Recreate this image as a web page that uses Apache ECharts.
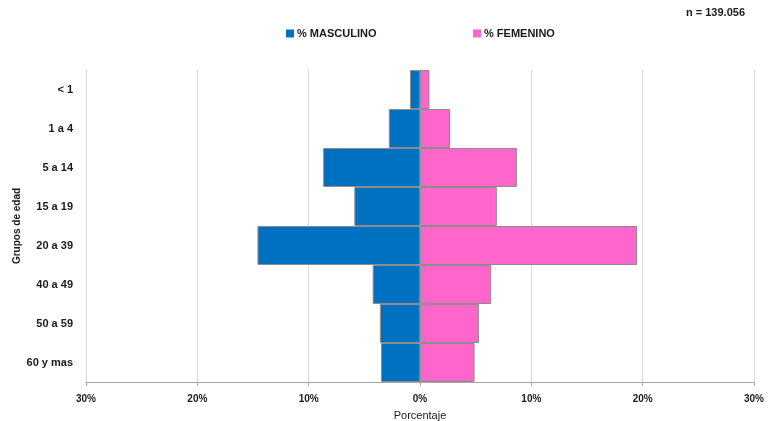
<!DOCTYPE html>
<html><head><meta charset="utf-8">
<script src="https://cdn.jsdelivr.net/npm/echarts@6/dist/echarts.min.js"></script>
<style>html,body{margin:0;padding:0;background:#fff;overflow:hidden}#c{width:774px;height:421px}</style>
</head><body><div id="c"></div>
<script>
const categories = ['< 1','1 a 4','5 a 14','15 a 19','20 a 39','40 a 49','50 a 59','60 y mas'];
const masculino = [0.9, 2.8, 8.7, 5.9, 14.6, 4.25, 3.6, 3.5];
const femenino = [0.85, 2.7, 8.7, 6.9, 19.5, 6.4, 5.3, 4.9];
const xTicks = [-30, -20, -10, 0, 10, 20, 30];

const font = 'Liberation Sans, Arial, sans-serif';
const chart = echarts.init(document.getElementById('c'));
chart.setOption({
  animation: false,
  textStyle: {fontFamily: font},
  grid: {left: 86, right: 20, top: 70, bottom: 39, containLabel: false, outerBoundsMode: 'none'},
  graphic: [{type: 'text', right: 29, top: 7, style: {text: 'n = 139.056', font: 'bold 11px ' + font, fill: '#1a1a1a'}}],
  legend: [
    {data: ['% MASCULINO'], left: 286, top: 28, padding: 0, itemWidth: 8, itemHeight: 8, itemGap: 4, icon: 'rect',
     itemStyle: {borderWidth: 0},
     textStyle: {fontSize: 11, fontWeight: 'bold', color: '#1a1a1a', padding: [0,0,0,-2]}},
    {data: ['% FEMENINO'], left: 473, top: 28, padding: 0, itemWidth: 8, itemHeight: 8, itemGap: 4, icon: 'rect',
     itemStyle: {borderWidth: 0},
     textStyle: {fontSize: 11, fontWeight: 'bold', color: '#1a1a1a', padding: [0,0,0,-2]}}
  ],
  xAxis: {
    type: 'value', min: xTicks[0], max: xTicks[xTicks.length-1], interval: 10,
    name: 'Porcentaje', nameLocation: 'middle', nameGap: 28, nameMoveOverlap: false,
    nameTextStyle: {fontSize: 11, color: '#1a1a1a'},
    axisLine: {show: true, lineStyle: {color: '#a6a6a6'}},
    axisTick: {show: true, length: 4, lineStyle: {color: '#a6a6a6'}},
    axisLabel: {formatter: v => Math.abs(v) + '%', fontSize: 10, fontWeight: 'bold', color: '#1a1a1a', margin: 12},
    splitLine: {show: true, lineStyle: {color: '#d9d9d9'}}
  },
  yAxis: {
    type: 'category', data: categories, inverse: true,
    name: 'Grupos de edad', nameLocation: 'middle', nameGap: 64, nameRotate: 90, nameMoveOverlap: false,
    nameTextStyle: {fontSize: 10, fontWeight: 'bold', color: '#1a1a1a'},
    axisLine: {show: true, lineStyle: {color: '#a6a6a6'}},
    axisTick: {show: false},
    axisLabel: {fontSize: 11, fontWeight: 'bold', color: '#1a1a1a', margin: 13}
  },
  series: [
    {name: '% MASCULINO', type: 'bar', stack: 'p', barWidth: '100%', barCategoryGap: 0,
     data: masculino.map(v => -v),
     itemStyle: {color: '#0070c0', borderColor: '#8c8c8c', borderWidth: 1}},
    {name: '% FEMENINO', type: 'bar', stack: 'p', barWidth: '100%', barCategoryGap: 0,
     data: femenino,
     itemStyle: {color: '#ff66cc', borderColor: '#8c8c8c', borderWidth: 1}}
  ]
});
</script></body></html>
